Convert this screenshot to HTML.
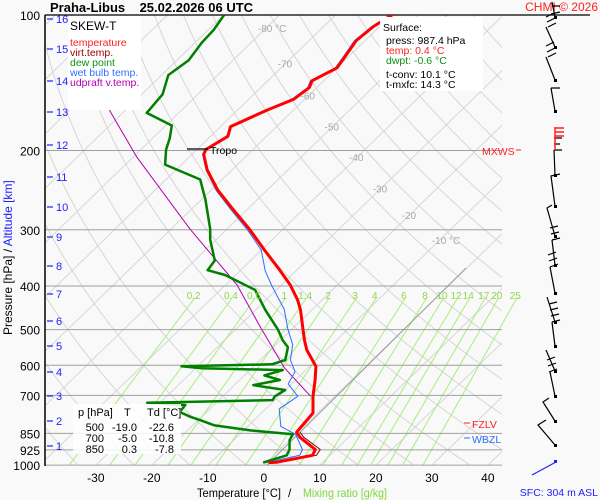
<!DOCTYPE html>
<html><head><meta charset="utf-8"><style>
body{margin:0;background:#fff;}
svg{display:block;font-family:"Liberation Sans",sans-serif;}
</style></head><body>
<svg id="chart" width="600" height="500" viewBox="0 0 600 500" xmlns="http://www.w3.org/2000/svg">
<rect x="0" y="0" width="600" height="500" fill="#f9f9f9"/>
<defs>
<clipPath id="plotClip"><rect x="45" y="15" width="457" height="450"/></clipPath>
<clipPath id="mixClip"><rect x="45" y="15" width="480" height="450"/></clipPath>
</defs>
<g id="grid" clip-path="url(#plotClip)"></g>
<g id="mix" clip-path="url(#mixClip)"></g>
<g id="hlines"></g>
<g id="series" clip-path="url(#plotClip)"></g>
<g id="labels"></g>
</svg>
<script>
const tempP=[987,985,951,923,867,845,766,703,647,603,555,528,499,452,430,398,369,333,299,270,245,221,204,199,186,177,163,154,145,140,131,122,114,106,100];
const tempT=[0.4,1.8,6.9,6.3,1.3,-0.2,-0.8,-3.9,-6.5,-8.9,-13.5,-15.7,-18,-22,-24.3,-28.4,-33,-39.4,-46,-52.6,-58.8,-64.4,-67.9,-68.4,-66.9,-68.2,-64.8,-62,-61.3,-62.1,-60,-60.8,-61.6,-61.1,-59.9];
const virtP=[987,951,923,867,845];
const virtT=[1.2,7.6,7.2,2.0,0.4];
const dewP=[987,951,923,880,854,837,816,794,781,762,735,727,717,703,681,664,647,632,615,609,603,597,584,547,528,499,452,408,378,369,351,316,299,257,232,215,199,188,176,165,150,136,126,115,108,100];
const dewT=[-0.6,2.3,1.7,0,-0.5,-8.8,-16.1,-19.7,-22,-24.8,-25.1,-32.3,-10.4,-10.7,-10,-16.6,-12.8,-16.4,-14.1,-28.9,-32.9,-17.1,-15.5,-17.4,-19.6,-22.5,-28.3,-33.8,-41.9,-45.9,-46.4,-51,-53,-59.3,-63.9,-72.9,-75.5,-76.9,-78.9,-85.7,-86.3,-88.8,-87.9,-88.8,-89,-89.9];
const wbP=[987,951,923,854,820,750,703,660,620,584,540,499,450,400,370,333,299,270,245,221,204,199,186,177,163,154,145,140,131,122,114,106,100];
const wbT=[0,4.6,4,0,-4.1,-7.6,-6.6,-10.6,-11.6,-14.6,-17,-20.7,-25.1,-31.5,-35.5,-40,-46.4,-53,-59.1,-64.6,-68.1,-68.6,-67.1,-68.4,-65.1,-62.3,-61.6,-62.4,-60.3,-61.1,-61.9,-61.4,-60.2];
const parcelP=[703,609,499,398,299,207,167,143,100];
const parcelT=[-4.3,-14.1,-25.4,-37.9,-56.6,-79.3,-91.4,-100,-117.2];
const mixRatios=[0.2,0.4,0.6,1,1.4,2,3,4,6,8,10,12,14,17,20,25];
const pressureTicks=[100,200,300,400,500,600,700,850,925,1000];
const tempTicks=[-30,-20,-10,0,10,20,30,40];
const kmTicks=[16,15,14,13,12,11,10,9,8,7,6,5,4,3,2,1];
const kmY=[19,49,81,112,145,177,207,237,266,294,321,346,372,396,421,446];
const isoLabels=[-80,-70,-60,-50,-40,-30,-20,-10];
const isoLabelP=[107,128,151,177,207,243,278,316];

const NS="http://www.w3.org/2000/svg";
function yOf(p){return 15+195.5*Math.log(p/100);}
function xOf(T,p){return 264+5.6*T+1.03*(465-yOf(p));}
function mk(tag,attrs,parent){const e=document.createElementNS(NS,tag);for(const k in attrs)e.setAttribute(k,attrs[k]);parent.appendChild(e);return e;}
function txt(s,x,y,fill,size,anchor,parent){const t=mk('text',{x:x,y:y,fill:fill,'font-size':size,'text-anchor':anchor||'start'},parent);t.textContent=s;return t;}
const grid=document.getElementById('grid'),mix=document.getElementById('mix'),hl=document.getElementById('hlines'),ser=document.getElementById('series'),lab=document.getElementById('labels');

for(let T=-160;T<=40;T+=10){
 const l=mk('line',{x1:xOf(T,1050),y1:yOf(1050),x2:xOf(T,100),y2:yOf(100),stroke:'#d6d6d6','stroke-width':1},grid);
 
 
}
for(let th=230;th<=520;th+=10){
 let d='';
 for(let p=1050;p>=100;p-=10){const T=th*Math.pow(p/1000,0.286)-273.15;d+=(d?'L':'M')+xOf(T,p).toFixed(1)+','+yOf(p).toFixed(1);}
 const a=mk('path',{d:d,fill:'none',stroke:'#d6d6d6','stroke-width':1},grid);
 
 
}
function tdFromW(w,p){const e=w*p/(622+w);const l=Math.log(e/6.112);return 243.5*l/(17.67-l);}
mixRatios.forEach(w=>{
 const l=mk('line',{x1:xOf(tdFromW(w,1050),1050),y1:yOf(1050),x2:xOf(tdFromW(w,425),425),y2:yOf(425),stroke:'#a6ee7a','stroke-width':1},mix);
 
 
 const t=txt(String(w),xOf(tdFromW(w,420),420)-3,299,'#8fd84a',10,'middle',lab);
 
 
});
pressureTicks.forEach(p=>{
 if(p>100){const l=mk('line',{x1:45,y1:yOf(p),x2:502,y2:yOf(p),stroke:'#a0a0a0','stroke-width':1},hl);
 
 }
 const t=txt(String(p),40,yOf(p)+5,'#000',12,'end',lab);
 
 
});
mk('line',{x1:45,y1:15,x2:590,y2:15,stroke:'#000','stroke-width':1.2,},hl);
mk('line',{x1:45,y1:15,x2:45,y2:466,stroke:'#000','stroke-width':1.5,},hl);
isoLabels.forEach((T,i)=>{
 const p=isoLabelP[i];
 const t=txt(T+((T==-80||T==-10)?' °C':''),xOf(T,p)-8,yOf(p)+4,'#a8a8a8',10,'start',lab);
 
 
});
tempTicks.forEach(T=>{
 const t=txt(String(T),xOf(T,1000),482,'#000',12,'middle',lab);
 
 
});
kmTicks.forEach((k,i)=>{
 mk('line',{x1:47,y1:kmY[i],x2:53,y2:kmY[i],stroke:'#2020ff','stroke-width':1.2,},lab);
 const t=txt(String(k),56,kmY[i]+4,'#2020ff',11,'start',lab);
 
 
});
mk('line',{x1:262,y1:470,x2:466,y2:268,stroke:'#888','stroke-width':0.8,},ser);
function series(P,T,color,w,name){
 let d='';P.forEach((p,i)=>{d+=(i?'L':'M')+xOf(T[i],p).toFixed(1)+','+yOf(p).toFixed(1);});
 const e=mk('path',{d:d,fill:'none',stroke:color,'stroke-width':w,'stroke-linejoin':'round'},ser);
 
 
}
series(parcelP,parcelT,'#b000b0',1,'updraft-temperature-line');
series(wbP,wbT,'#2a6fff',1,'wet-bulb-line');
series(dewP,dewT,'#008000',2.5,'dew-point-line');
series(virtP,virtT,'#900000',1,'virtual-temperature-line');
series(tempP,tempT,'#ff0000',3,'temperature-line');
</script>
<svg style="position:absolute;left:0;top:0" width="600" height="500">
<g font-family="Liberation Sans, sans-serif">
<text x="50" y="12" font-size="13" font-weight="bold">Praha-Libus&#160;&#160;&#160; 25.02.2026 06 UTC</text>
<text x="598" y="11" font-size="12" fill="#ff2020" text-anchor="end">CHMI © 2026</text>
<rect x="68" y="16" width="73" height="94" fill="#fff"/>
<text x="70" y="30" font-size="12">SKEW-T</text>
<text x="70" y="46" font-size="10.5" fill="#ff2020">temperature</text>
<text x="70" y="56" font-size="10.5" fill="#a00000">virt.temp.</text>
<text x="70" y="66" font-size="10.5" fill="#109010">dew point</text>
<text x="70" y="76" font-size="10.5" fill="#3070ff">wet bulb temp.</text>
<text x="70" y="86" font-size="10.5" fill="#b000b0">udpraft v.temp.</text>
<rect x="380" y="17" width="103" height="74" fill="#fff"/>
<g font-size="10.5">
<text x="383" y="31">Surface:</text>
<text x="386" y="44">press: 987.4 hPa</text>
<text x="386" y="54" fill="#ff2020">temp: 0.4 °C</text>
<text x="386" y="64" fill="#109010">dwpt: -0.6 °C</text>
<text x="386" y="78">t-conv: 10.1 °C</text>
<text x="386" y="88">t-mxfc: 14.3 °C</text>
</g>
<rect x="73" y="404" width="108" height="50" fill="#fff" opacity="0.85"/>
<g font-size="11">
<text x="78" y="416">p [hPa]</text><text x="124" y="416">T</text><text x="147" y="416">Td [°C]</text>
<text x="104" y="431" text-anchor="end">500</text><text x="137" y="431" text-anchor="end">-19.0</text><text x="174" y="431" text-anchor="end">-22.6</text>
<text x="104" y="442" text-anchor="end">700</text><text x="137" y="442" text-anchor="end">-5.0</text><text x="174" y="442" text-anchor="end">-10.8</text>
<text x="104" y="453" text-anchor="end">850</text><text x="137" y="453" text-anchor="end">0.3</text><text x="174" y="453" text-anchor="end">-7.8</text>
</g>
<line x1="187" y1="149" x2="208" y2="149" stroke="#000" stroke-width="1.2"/>
<text x="210" y="154" font-size="10.5">Tropo</text>
<text x="482" y="155" font-size="10.5" fill="#ff2020">MXWS</text>
<line x1="516" y1="150" x2="521" y2="150" stroke="#ff2020"/>
<line x1="464" y1="423" x2="470" y2="423" stroke="#ff2020"/>
<text x="472" y="428" font-size="10.5" fill="#ff2020">FZLV</text>
<line x1="464" y1="438" x2="470" y2="438" stroke="#2a6fff"/>
<text x="472" y="443" font-size="10.5" fill="#2a6fff">WBZL</text>
<text x="197" y="497" font-size="12" textLength="84" lengthAdjust="spacingAndGlyphs">Temperature [°C]</text>
<text x="288" y="497" font-size="12">/</text>
<text x="303" y="497" font-size="12" fill="#7fd83a" textLength="84" lengthAdjust="spacingAndGlyphs">Mixing ratio [g/kg]</text>
<text transform="translate(12,335) rotate(-90)" font-size="12">Pressure [hPa] <tspan fill="#000">/</tspan> <tspan fill="#2020ff">Altitude [km]</tspan></text>
<text x="598" y="496" font-size="10.5" fill="#2020ff" text-anchor="end">SFC: 304 m ASL</text>
<line x1="532" y1="475" x2="556" y2="462" stroke="#2020ff" stroke-width="1.2"/>
<rect x="554" y="460" width="3" height="3" fill="#2020ff"/>
<g stroke="#000" stroke-width="1.2" fill="none">
<polyline points="555,445 538,425 546,420"/>
<polyline points="555,421 543,402 549,398"/>
<polyline points="555,396 550,372"/>
<polyline points="555,371 546,350"/>
<polyline points="555,346 552,322"/>
<polyline points="555,322 547,297"/>
<polyline points="555,293 550,267"/>
<polyline points="555,265 552,240"/>
<polyline points="555,236 547,208 552,205"/>
<polyline points="555,206 551,176 560,174"/>
<polyline points="555,175 554,150"/>
<polyline points="555,111 551,88"/>
<polyline points="555,80 546,57"/>
<polyline points="555,47 546,27"/>
<polyline points="555,17 552,2"/>
<path d="M549,372 l8,-3 M548,366 l8,-3 M547,360 l8,-3 M552,322 l8,-2 M551,316 l8,-2 M550,310 l8,-2 M549,304 l8,-2 M550,267 l8,-3 M549,261 l8,-3 M548,255 l8,-3 M552,240 l8,-2 M551,234 l8,-2 M550,228 l8,-2 M548,57 l8,-4 M547,52 l8,-4 M546,46 l8,-4 M548,27 l8,-4 M547,22 l8,-4 M546,17 l8,-4 M551,88 l9,0 M554,150 l8,0 M554,144 l6,0 M554,138 l8,0 M551,14 l9,-2 M552,6 l8,0"/>
</g>
<g fill="#000">
<rect x="554" y="444" width="3" height="3"/><rect x="554" y="420" width="3" height="3"/><rect x="554" y="395" width="3" height="3"/><rect x="554" y="370" width="3" height="3"/><rect x="554" y="345" width="3" height="3"/><rect x="554" y="321" width="3" height="3"/><rect x="554" y="292" width="3" height="3"/><rect x="554" y="264" width="3" height="3"/><rect x="554" y="235" width="3" height="3"/><rect x="554" y="205" width="3" height="3"/><rect x="554" y="174" width="3" height="3"/><rect x="554" y="110" width="3" height="3"/><rect x="554" y="79" width="3" height="3"/><rect x="554" y="46" width="3" height="3"/><rect x="554" y="16" width="3" height="3"/>
</g>
<g stroke="#ff2020" stroke-width="1.5">
<line x1="555" y1="127" x2="555" y2="150"/><line x1="555" y1="128" x2="564" y2="128"/><line x1="555" y1="132" x2="564" y2="132"/><line x1="555" y1="136" x2="564" y2="136"/>
</g>
</g>
</svg>
</body></html>
